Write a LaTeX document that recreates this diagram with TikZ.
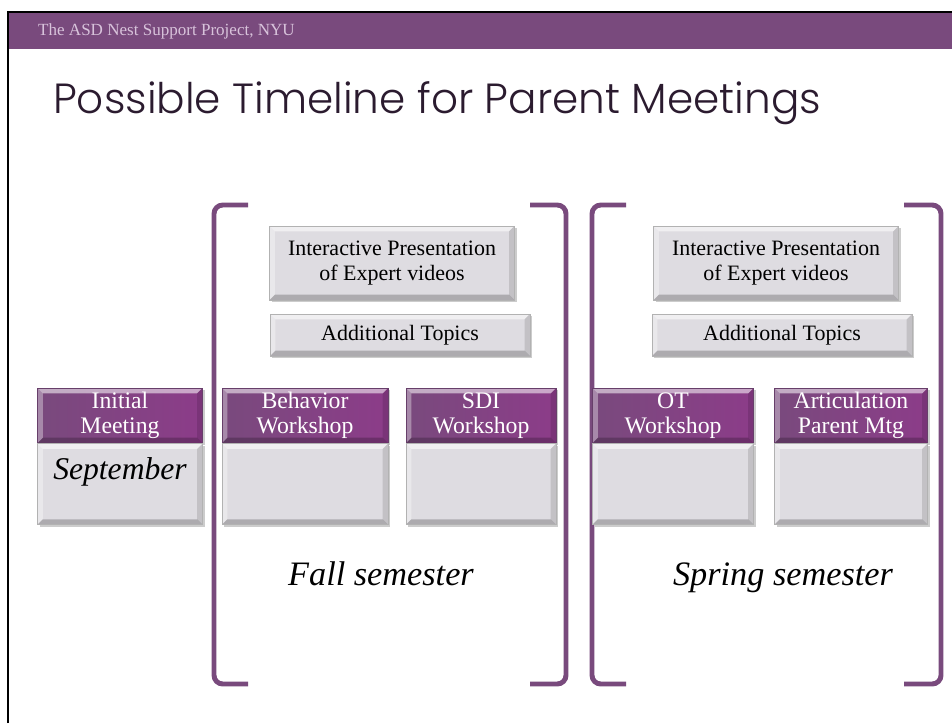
\documentclass[tikz,border=0pt]{standalone}
\usepackage{fontspec}
\setmainfont{Liberation Serif}
\newfontfamily\titlefont{Poppins}[UprightFont={* Light}]
\usetikzlibrary{shadows}

\definecolor{nestpurple}{HTML}{794A7D}
\definecolor{headright}{HTML}{8C3C89}
\definecolor{headtext}{HTML}{D8C3DB}
\definecolor{titlecol}{HTML}{2B1B2F}
\definecolor{cardgray}{HTML}{DEDCE1}

\tikzset{
  bevel/.style={path picture={
    \fill[white,opacity=.55] (path picture bounding box.north west) -- (path picture bounding box.north east)
      -- ([shift={(-3pt,-3pt)}]path picture bounding box.north east) -- ([shift={(3pt,-3pt)}]path picture bounding box.north west) -- cycle;
    \fill[white,opacity=.35] (path picture bounding box.north west) -- ([shift={(3pt,-3pt)}]path picture bounding box.north west)
      -- ([shift={(3pt,3pt)}]path picture bounding box.south west) -- (path picture bounding box.south west) -- cycle;
    \fill[black,opacity=.12] (path picture bounding box.north east) -- ([shift={(-3pt,-3pt)}]path picture bounding box.north east)
      -- ([shift={(-3pt,3pt)}]path picture bounding box.south east) -- (path picture bounding box.south east) -- cycle;
    \fill[black,opacity=.22] (path picture bounding box.south west) -- ([shift={(3pt,3pt)}]path picture bounding box.south west)
      -- ([shift={(-3pt,3pt)}]path picture bounding box.south east) -- (path picture bounding box.south east) -- cycle;
  }},
  card/.style={draw=gray!60, line width=0.4pt, fill=cardgray, bevel, inner sep=0pt, align=center,
    drop shadow={shadow xshift=1.2pt, shadow yshift=-1.2pt, opacity=.4},
    font=\fontsize{12.5}{14}\selectfont},
  cardhead/.style={card, draw=nestpurple!85!black, left color=nestpurple, right color=headright,
    text=white, minimum height=1.1cm, font=\fontsize{13.5}{14}\selectfont},
  cardbody/.style={card, minimum height=1.62cm},
  bracket/.style={draw=nestpurple, line width=2.8pt, rounded corners=5pt},
  semester/.style={font=\fontsize{19.5}{22}\itshape, anchor=base}
}

\begin{document}
\begin{tikzpicture}[x=0.02cm, y=-0.02cm]
\useasboundingbox (0,0) rectangle (952,723);
\fill[white] (0,0) rectangle (952,723);

% slide frame and header
\fill[nestpurple] (8,12) rectangle (952,49);
\draw[black, line width=1.2pt] (8,723) -- (8,12) -- (952,12);
\node[anchor=west, text=headtext, font=\fontsize{9.7}{10}\selectfont] (project) at (32,31) {The ASD Nest Support Project, NYU};
\node[anchor=base west, text=titlecol, font=\titlefont\fontsize{24}{28}\selectfont] (title) at (47,113) {Possible Timeline for Parent Meetings};

% brackets
\draw[bracket] (248,205) -- (214,205) -- (214,684) -- (248,684);
\draw[bracket] (530,205) -- (566,205) -- (566,684) -- (530,684);
\draw[bracket] (626,205) -- (592,205) -- (592,684) -- (626,684);
\draw[bracket] (904,205) -- (941,205) -- (941,684) -- (904,684);

% topic boxes
\node[card, minimum width=4.9cm, minimum height=1.48cm] (fallVideos) at (392,263) {Interactive Presentation\\of Expert videos};
\node[card, minimum width=5.2cm, minimum height=0.84cm] (fallTopics) at (400,335) {Additional Topics};
\node[card, minimum width=4.9cm, minimum height=1.48cm] (springVideos) at (776,263) {Interactive Presentation\\of Expert videos};
\node[card, minimum width=5.2cm, minimum height=0.84cm] (springTopics) at (782,335) {Additional Topics};

% meetings
\node[cardhead, minimum width=3.3cm] (initHead) at (120,415.5) {Initial\\Meeting};
\node[cardbody, minimum width=3.3cm, anchor=north] (initBody) at (initHead.south) {};
\node[font=\fontsize{18}{20}\itshape, anchor=north] (initDate) at ([yshift=-4.5pt]initBody.north) {September};

\node[cardhead, minimum width=3.32cm] (behHead) at (305,415.5) {Behavior\\Workshop};
\node[cardbody, minimum width=3.32cm, anchor=north] (behBody) at (behHead.south) {};

\node[cardhead, minimum width=3.0cm] (sdiHead) at (481,415.5) {SDI\\Workshop};
\node[cardbody, minimum width=3.0cm, anchor=north] (sdiBody) at (sdiHead.south) {};

\node[cardhead, minimum width=3.22cm] (otHead) at (673,415.5) {OT\\Workshop};
\node[cardbody, minimum width=3.22cm, anchor=north] (otBody) at (otHead.south) {};

\node[cardhead, minimum width=3.06cm] (artHead) at (851,415.5) {Articulation\\Parent Mtg};
\node[cardbody, minimum width=3.06cm, anchor=north] (artBody) at (artHead.south) {};

\node[semester] (fallLabel) at (381,585) {Fall semester};
\node[semester] (springLabel) at (783,585) {Spring semester};
\end{tikzpicture}
\end{document}
